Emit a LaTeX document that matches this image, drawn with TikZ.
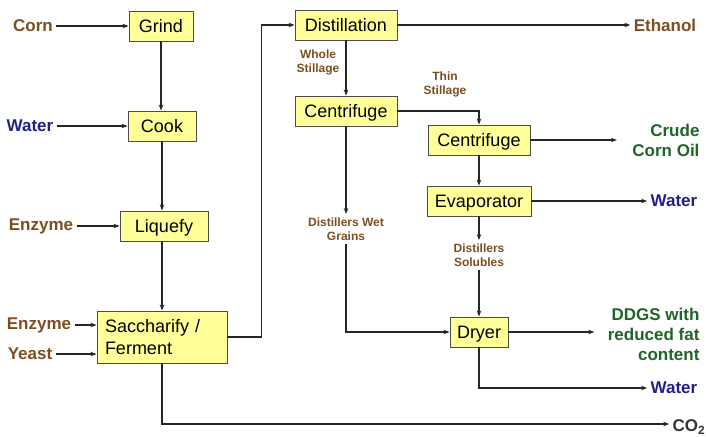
\documentclass[tikz,border=0pt]{standalone}
\usepackage{fontspec}
\setmainfont{Liberation Sans}
\usepackage{xcolor}
\usepackage{tikz}
\usetikzlibrary{arrows.meta}

\definecolor{boxfill}{RGB}{255,255,153}
\definecolor{corntan}{RGB}{125,78,32}
\definecolor{flowblue}{RGB}{32,32,140}
\definecolor{oilgreen}{RGB}{32,100,40}

\tikzset{
  unitbase/.style={draw=black!70, fill=boxfill, line width=0.9pt, minimum height=30pt,
    inner xsep=7pt, font=\fontsize{18}{22}\selectfont},
  unit/.style={unitbase, text height=13pt, text depth=0pt},
  feed/.style={font=\bfseries\fontsize{17}{20}\selectfont},
  stream/.style={font=\bfseries\fontsize{12}{14}\selectfont, text=corntan, align=center},
  flow/.style={-{Stealth[length=6pt,width=4.5pt]}, line width=1.1pt, black!85}
}

\begin{document}
\begin{tikzpicture}[x=1pt,y=-1pt]
    \useasboundingbox (0,0) rectangle (706,436);
    % Process units
    \node[unit, minimum width=64pt] (grind) at (161,26) {Grind};
    \node[unit, minimum width=68pt] (cook) at (162,126) {Cook};
    \node[unit, minimum width=88pt] (liquefy) at (164,226) {Liquefy};
    \node[unitbase, text width=114pt, inner xsep=8pt, minimum height=52pt, align=left] (ferment) at (162,337) {Saccharify /\\Ferment};
    \node[unit, minimum width=102pt] (distill) at (346,25) {Distillation};
    \node[unit, minimum width=102pt] (centA) at (346,111) {Centrifuge};
    \node[unit, minimum width=102pt] (centB) at (479,140) {Centrifuge};
    \node[unit, minimum width=104pt] (evap) at (479,201) {Evaporator};
    \node[unit, minimum width=56pt] (dryer) at (479,332) {Dryer};
    % Feeds
    \node[feed, text=corntan] (corn) at (33,26) {Corn};
    \node[feed, text=flowblue] (waterin) at (30,126) {Water};
    \node[feed, text=corntan] (enzA) at (41,226) {Enzyme};
    \node[feed, text=corntan] (enzB) at (39,325) {Enzyme};
    \node[feed, text=corntan] (yeast) at (30,354) {Yeast};
    % Products
    \node[feed, text=corntan] (ethanol) at (665,25) {Ethanol};
    \node[feed, text=oilgreen, align=right, anchor=east] (oil) at (703,140) {Crude\\Corn Oil};
    \node[feed, text=flowblue] (waterA) at (674,201) {Water};
    \node[feed, text=oilgreen, align=right, anchor=east] (ddgs) at (703,334) {DDGS with\\reduced fat\\content};
    \node[feed, text=flowblue] (waterB) at (674,388) {Water};
    \node[feed, text=black!80] (co2) at (689,427) {CO\textsubscript{2}};
    % Stream labels
    \node[stream] (whole) at (318,62) {Whole\\Stillage};
    \node[stream] (thin) at (445,84) {Thin\\Stillage};
    \node[stream] (dwg) at (346,229) {Distillers Wet\\Grains};
    \node[stream] (solub) at (479,255) {Distillers\\Solubles};
    % Connectors
    \draw[flow] (corn.east) -- (grind.west);
    \draw[flow] (waterin.east) -- (cook.west);
    \draw[flow] (enzA.east) -- (enzA.east -| liquefy.west);
    \draw[flow] (enzB.east) -- (enzB.east -| ferment.west);
    \draw[flow] (yeast.east) -- (yeast.east -| ferment.west);
    \draw[flow] (grind.south) -- (grind.south |- cook.north);
    \draw[flow] (cook.south) -- (cook.south |- liquefy.north);
    \draw[flow] (cook.south |- liquefy.south) -- (ferment.north);
    \draw[flow] (ferment.east) -- ++(34,0) |- (distill.west);
    \draw[flow] (distill.east) -- (ethanol.west);
    \draw[flow] (distill.south) -- (centA.north);
    \draw[flow] (centA.east) -| (centB.north);
    \draw[flow] (centB.south) -- (evap.north);
    \draw[flow] (centA.south) -- (dwg.north);
    \draw[flow] (dwg.south) |- (dryer.west);
    \draw[flow, shorten >=12pt] (centB.east) -- (centB.east -| oil.west);
    \draw[flow] (evap.east) -- (waterA.west);
    \draw[flow] (evap.south) -- (solub.north);
    \draw[flow] (solub.south) -- (dryer.north);
    \draw[flow, shorten >=10pt] (dryer.east) -- (dryer.east -| ddgs.west);
    \draw[flow] (dryer.south) |- (waterB.west);
    \draw[flow] (ferment.south) |- (co2.west |- 0,424);
\end{tikzpicture}
\end{document}
